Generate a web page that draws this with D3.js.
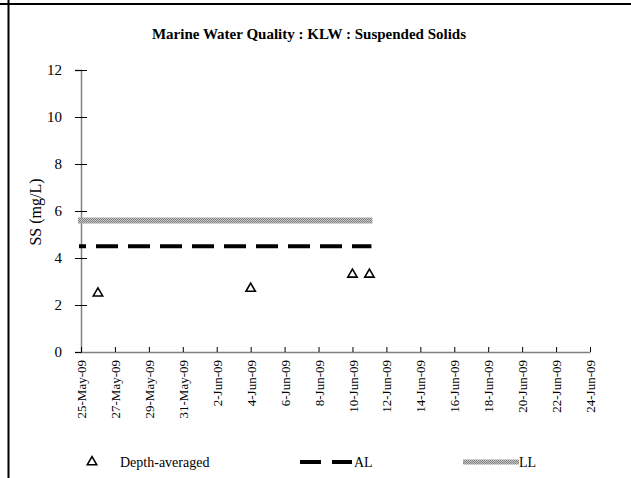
<!DOCTYPE html>
<html>
<head>
<meta charset="utf-8">
<script src="https://cdn.jsdelivr.net/npm/d3@7"></script>
<style>
  body { margin: 0; background: #fff; }
  svg text { font-family: "Liberation Serif", "Times New Roman", Times, "DejaVu Serif", serif !important; fill: #000; }
</style>
</head>
<body>
<div id="chart"></div>
<script>
// Chart data
var sampleDates = ["2009-05-26", "2009-06-04", "2009-06-10", "2009-06-11"];
var ssValues = [2.5, 2.7, 3.3, 3.3];
var limitDates = ["2009-05-25", "2009-06-11"];
var alValues = [4.5, 4.5];
var llValues = [5.6, 5.6];
var yTicks = [0, 2, 4, 6, 8, 10, 12];
var xTickLabels = ["25-May-09", "27-May-09", "29-May-09", "31-May-09", "2-Jun-09", "4-Jun-09",
    "6-Jun-09", "8-Jun-09", "10-Jun-09", "12-Jun-09", "14-Jun-09", "16-Jun-09",
    "18-Jun-09", "20-Jun-09", "22-Jun-09", "24-Jun-09"];

var svgWidth = 631;
var svgHeight = 478;

var parseIso = d3.utcParse("%Y-%m-%d");
var parseLabel = d3.utcParse("%d-%b-%y");
var fmtLabel = d3.utcFormat("%-d-%b-%y");
var xTickDates = xTickLabels.map(parseLabel);

var svg = d3.select("#chart")
    .append("svg")
    .attr("width", svgWidth)
    .attr("height", svgHeight);

// frame lines
svg.append("line").attr("x1", 0).attr("x2", svgWidth).attr("y1", 4).attr("y2", 4)
    .attr("stroke", "#000").attr("stroke-width", 2);
svg.append("line").attr("x1", 8.5).attr("x2", 8.5).attr("y1", 0).attr("y2", svgHeight)
    .attr("stroke", "#000").attr("stroke-width", 2);

// hatched pattern for LL
var defs = svg.append("defs");
var pat = defs.append("pattern").attr("id", "hatch")
    .attr("width", 2).attr("height", 2).attr("patternUnits", "userSpaceOnUse");
pat.append("rect").attr("width", 2).attr("height", 2).attr("fill", "#c8c8c8");
pat.append("rect").attr("width", 1).attr("height", 1).attr("fill", "#808080");
pat.append("rect").attr("x", 1).attr("y", 1).attr("width", 1).attr("height", 1).attr("fill", "#808080");

// scales
var xScale = d3.scaleUtc()
    .domain([xTickDates[0], xTickDates[xTickDates.length - 1]])
    .range([81, 590]);
var yScale = d3.scaleLinear()
    .domain([0, 12])
    .range([352, 70]);

// title
svg.append("text")
    .attr("x", 309).attr("y", 39)
    .attr("text-anchor", "middle")
    .attr("font-weight", "bold")
    .attr("font-size", "15px")
    .text("Marine Water Quality : KLW : Suspended Solids");

// y axis
var yAxisG = svg.append("g")
    .attr("transform", "translate(81,0)")
    .call(d3.axisLeft(yScale).tickValues(yTicks).tickSize(6).tickPadding(13));
yAxisG.select(".domain").attr("stroke", "#808080").attr("stroke-width", 1.5);
yAxisG.selectAll(".tick line").attr("x1", 6).attr("x2", -6).attr("stroke", "#000");
yAxisG.selectAll(".tick text").attr("font-size", "15px");

// y label
svg.append("text")
    .attr("transform", "translate(41,212) rotate(-90)")
    .attr("text-anchor", "middle")
    .attr("font-size", "16px")
    .text("SS (mg/L)");

// x axis
var xAxisG = svg.append("g")
    .attr("transform", "translate(0,352)")
    .call(d3.axisBottom(xScale).tickValues(xTickDates).tickFormat(fmtLabel).tickSizeInner(-5).tickSizeOuter(0));
xAxisG.select(".domain").attr("stroke", "#808080").attr("stroke-width", 1.5);
xAxisG.selectAll(".tick line").attr("stroke", "#000");
xAxisG.selectAll(".tick text")
    .attr("font-size", "13px")
    .attr("transform", "rotate(-90)")
    .attr("text-anchor", "end")
    .attr("x", -8)
    .attr("y", 0)
    .attr("dy", "0.35em");

// limit lines
var lineGen = d3.line()
    .x(d => xScale(d.date))
    .y(d => yScale(d.v));
var llData = limitDates.map((d, i) => ({ date: parseIso(d), v: llValues[i] }));
var alData = limitDates.map((d, i) => ({ date: parseIso(d), v: alValues[i] }));

svg.append("path")
    .datum(llData)
    .attr("d", lineGen)
    .attr("fill", "none")
    .attr("stroke", "url(#hatch)")
    .attr("stroke-width", 6)
    .attr("stroke-linecap", "square");
svg.append("path")
    .datum(alData)
    .attr("d", lineGen)
    .attr("fill", "none")
    .attr("stroke", "#000")
    .attr("stroke-width", 4)
    .attr("stroke-linecap", "square")
    .attr("stroke-dasharray", "18,14")
    .attr("stroke-dashoffset", 15);

// data points
var tri = d3.symbol().type(d3.symbolTriangle).size(38);
svg.selectAll(".pt")
    .data(sampleDates)
    .enter()
    .append("path")
    .attr("class", "pt")
    .attr("d", tri)
    .attr("transform", (d, i) => `translate(${xScale(parseIso(d))},${yScale(ssValues[i])})`)
    .attr("fill", "none")
    .attr("stroke", "#000")
    .attr("stroke-width", 1.6);

// legend
svg.append("path")
    .attr("d", tri)
    .attr("transform", "translate(92,462)")
    .attr("fill", "none")
    .attr("stroke", "#000")
    .attr("stroke-width", 1.6);
svg.append("text").attr("x", 120).attr("y", 467).attr("font-size", "14px").text("Depth-averaged");

svg.append("line").attr("x1", 300).attr("x2", 352).attr("y1", 462).attr("y2", 462)
    .attr("stroke", "#000").attr("stroke-width", 4).attr("stroke-dasharray", "21,11");
svg.append("text").attr("x", 354).attr("y", 467).attr("font-size", "14px").text("AL");

svg.append("line").attr("x1", 463).attr("x2", 519).attr("y1", 462).attr("y2", 462)
    .attr("stroke", "url(#hatch)").attr("stroke-width", 5);
svg.append("text").attr("x", 519).attr("y", 467).attr("font-size", "14px").text("LL");
</script>
</body>
</html>
